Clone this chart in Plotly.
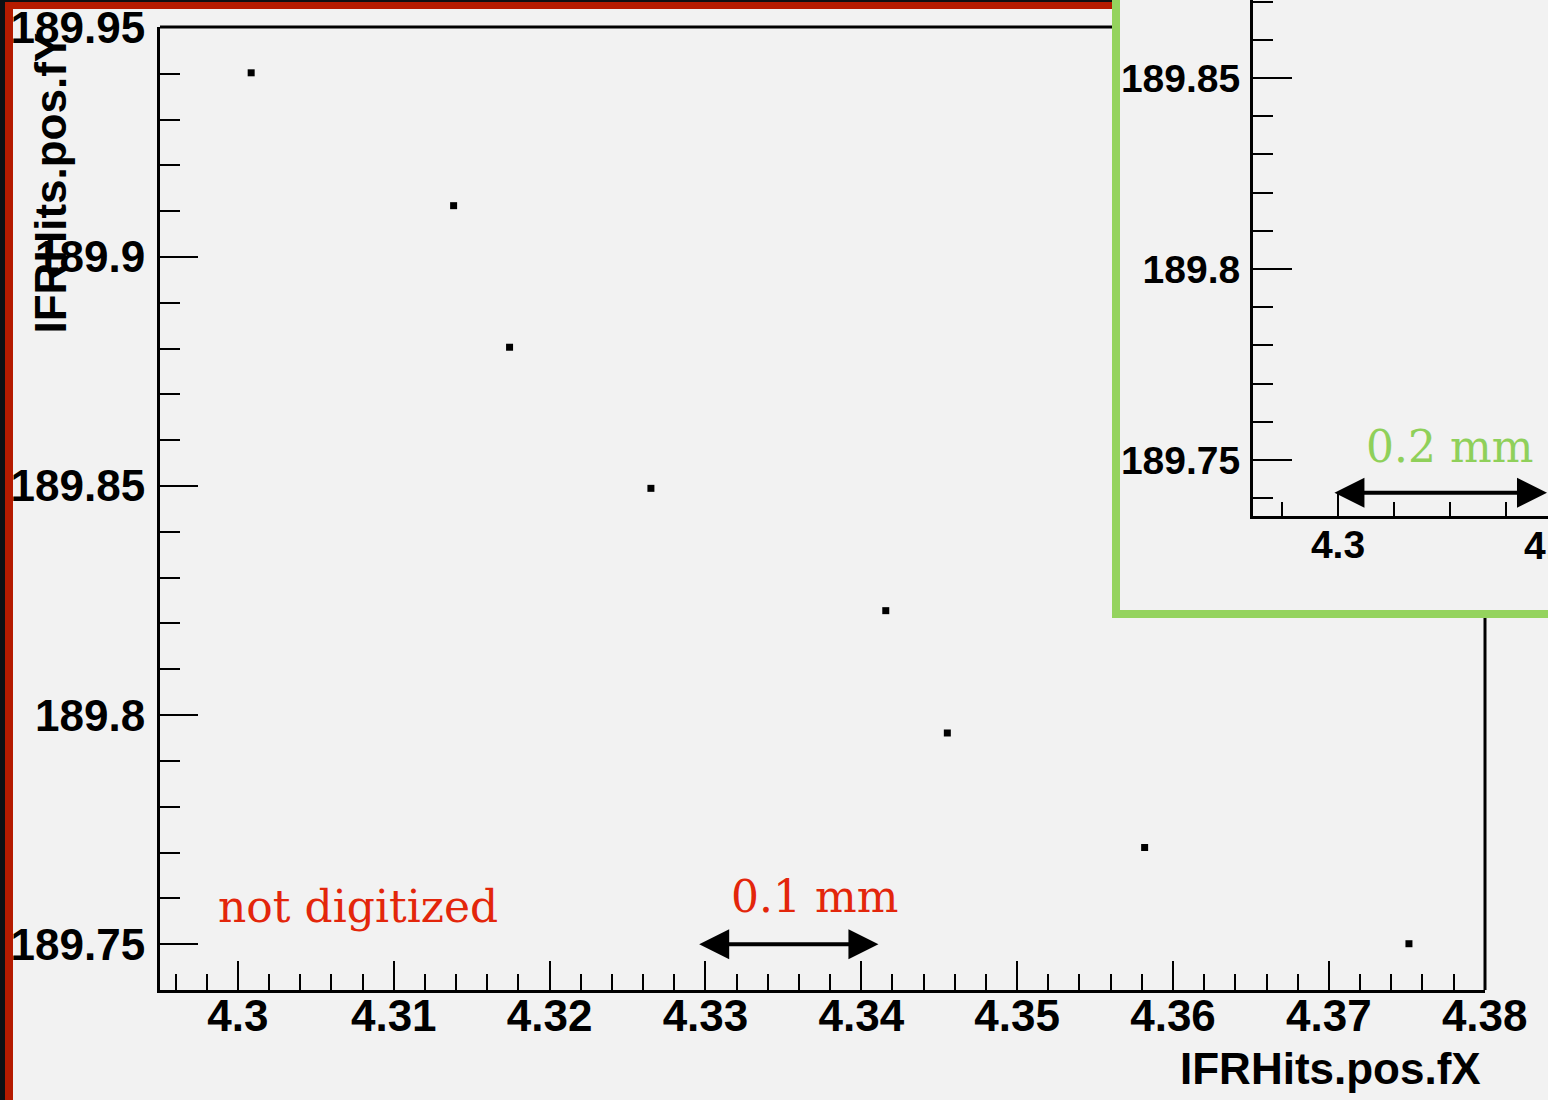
import plotly.graph_objects as go

# ---------------- data ----------------
hit_x = [4.30085, 4.31384, 4.31743, 4.32650, 4.34157, 4.34552, 4.35818, 4.37514]
hit_y = [189.9402, 189.9112, 189.8803, 189.8495, 189.8228, 189.7961, 189.7711, 189.7501]

x_tick_vals = [4.30, 4.31, 4.32, 4.33, 4.34, 4.35, 4.36, 4.37, 4.38]
x_tick_text = ["4.3", "4.31", "4.32", "4.33", "4.34", "4.35", "4.36", "4.37", "4.38"]
y_tick_vals = [189.75, 189.80, 189.85, 189.90, 189.95]
y_tick_text = ["189.75", "189.8", "189.85", "189.9", "189.95"]

inset_x_tick_vals = [4.30]
inset_x_tick_text = ["4.3"]
inset_y_tick_vals = [189.75, 189.80, 189.85]
inset_y_tick_text = ["189.75", "189.8", "189.85"]

x_title = "IFRHits.pos.fX"
y_title = "IFRHits.pos.fY"

# scale-bar annotations (data units, cm)
bar_main = (4.3295, 4.3411, 189.75)
bar_inset = (4.29955, 4.31866, 189.7414)

# ---------------- page geometry ----------------
W, H = 1548, 1100


def fx(p):
    return p / W


def fy(p):
    return 1 - p / H


DARK = "#0d1013"
RED = "#b51b00"
PANEL = "#f2f2f2"
GREEN = "#94d35e"
TXT_RED = "#e3260b"
TXT_GREEN = "#8fd05a"

tick_font = dict(family="Liberation Sans, Arial, sans-serif", size=44, color="black", weight="bold")
inset_font = dict(family="Liberation Sans, Arial, sans-serif", size=39, color="black", weight="bold")
serif = "DejaVu Serif, serif"

fig = go.Figure()

fig.add_trace(go.Scatter(
    x=hit_x, y=hit_y, mode="markers",
    marker=dict(symbol="square", size=7, color="black", line=dict(width=0)),
    xaxis="x", yaxis="y", showlegend=False, hoverinfo="x+y",
))
fig.add_trace(go.Scatter(x=[], y=[], mode="markers", xaxis="x2", yaxis="y2", showlegend=False))

common = dict(showgrid=False, zeroline=False, showline=True, linecolor="black",
              ticks="inside", tickcolor="black", mirror=False, automargin=False)

fig.update_layout(
    width=W, height=H,
    autosize=False,
    margin=dict(l=0, r=0, t=0, b=0, pad=0, autoexpand=False),
    paper_bgcolor=DARK,
    plot_bgcolor="rgba(0,0,0,0)",
    showlegend=False,
    xaxis=dict(
        **common, domain=[fx(160), fx(1485)], range=[4.295, 4.38002], anchor="y",
        tickmode="array", tickvals=x_tick_vals, ticktext=x_tick_text,
        ticklen=29, tickwidth=2, linewidth=3, tickfont=tick_font, ticklabelstandoff=-15,
        minor=dict(ticks="inside", ticklen=16, tickwidth=2, tickcolor="black",
                   tickmode="linear", tick0=4.3, dtick=0.002),
    ),
    yaxis=dict(
        **common, domain=[fy(990), fy(27)], range=[189.74, 189.9502], anchor="x",
        tickmode="array", tickvals=y_tick_vals, ticktext=y_tick_text,
        ticklen=38, tickwidth=2, linewidth=3, tickfont=tick_font, ticklabelstandoff=3,
        minor=dict(ticks="inside", ticklen=20, tickwidth=2, tickcolor="black",
                   tickmode="linear", tick0=189.75, dtick=0.01),
    ),
    xaxis2=dict(
        **common, domain=[fx(1253), 1], range=[4.3 - 85 / 11200, 4.3 + 210 / 11200], anchor="y2",
        tickmode="array", tickvals=inset_x_tick_vals, ticktext=inset_x_tick_text,
        ticklen=22, tickwidth=2, linewidth=3, tickfont=inset_font, ticklabelstandoff=-8,
        minor=dict(ticks="inside", ticklen=14, tickwidth=2, tickcolor="black",
                   tickmode="linear", tick0=4.3, dtick=0.005),
    ),
    yaxis2=dict(
        **common, domain=[fy(516), 1], range=[189.75 - 56 / 3820, 189.75 + 460 / 3820], anchor="x2",
        tickmode="array", tickvals=inset_y_tick_vals, ticktext=inset_y_tick_text,
        ticklen=39, tickwidth=2, linewidth=3, tickfont=inset_font, ticklabelstandoff=2,
        minor=dict(ticks="inside", ticklen=20, tickwidth=2, tickcolor="black",
                   tickmode="linear", tick0=189.75, dtick=0.01),
    ),
)

shapes = [
    # red slide frame + light panel
    dict(type="rect", xref="paper", yref="paper", x0=fx(5), x1=1, y0=0, y1=fy(2),
         fillcolor=RED, line=dict(width=0), layer="below"),
    dict(type="rect", xref="paper", yref="paper", x0=fx(13), x1=1, y0=0, y1=fy(9),
         fillcolor=PANEL, line=dict(width=0), layer="below"),
    # main frame top and right
    dict(type="line", xref="paper", yref="paper", x0=fx(160), x1=fx(1112), y0=fy(27), y1=fy(27),
         line=dict(color="black", width=3), layer="below"),
    dict(type="line", xref="paper", yref="paper", x0=fx(1485), x1=fx(1485), y0=fy(990), y1=fy(610),
         line=dict(color="black", width=3), layer="below"),
    # inset green frame
    dict(type="rect", xref="paper", yref="paper", x0=fx(1112), x1=1.01, y0=fy(618), y1=1.01,
         fillcolor=GREEN, line=dict(width=0), layer="below"),
    dict(type="rect", xref="paper", yref="paper", x0=fx(1120), x1=1.01, y0=fy(610), y1=1.01,
         fillcolor=PANEL, line=dict(width=0), layer="below"),
]
fig.update_layout(shapes=shapes)

annotations = [
    # axis titles
    dict(xref="paper", yref="paper", x=fx(1483), y=fy(1068), xanchor="right", yanchor="middle",
         text=x_title, showarrow=False, font=tick_font),
    dict(xref="paper", yref="paper", x=fx(50), y=fy(336), xanchor="center", yanchor="bottom",
         text=y_title, textangle=-90, showarrow=False, font=tick_font),
    # inset clipped second label
    dict(xref="paper", yref="paper", x=fx(1562), y=fy(545), xanchor="center", yanchor="middle",
         text="4.32", showarrow=False, font=inset_font),
    # red / green notes
    dict(xref="paper", yref="paper", x=fx(216), y=fy(906), xanchor="left", yanchor="middle",
         text="not digitized", showarrow=False, font=dict(family=serif, size=44, color=TXT_RED)),
    dict(xref="paper", yref="paper", x=fx(814), y=fy(896), xanchor="center", yanchor="middle",
         text="0.1 mm", showarrow=False, font=dict(family=serif, size=44, color=TXT_RED)),
    dict(xref="paper", yref="paper", x=fx(1449), y=fy(446), xanchor="center", yanchor="middle",
         text="0.2 mm", showarrow=False, font=dict(family=serif, size=44, color=TXT_GREEN)),
    # scale bars
    dict(xref="x", yref="y", axref="x", ayref="y", x=bar_main[1], y=bar_main[2],
         ax=bar_main[0], ay=bar_main[2], text="", showarrow=True, arrowhead=2, startarrowhead=2,
         arrowside="end+start", arrowwidth=4, arrowsize=1.5, startarrowsize=1.5, arrowcolor="black"),
    dict(xref="x2", yref="y2", axref="x2", ayref="y2", x=bar_inset[1], y=bar_inset[2],
         ax=bar_inset[0], ay=bar_inset[2], text="", showarrow=True, arrowhead=2, startarrowhead=2,
         arrowside="end+start", arrowwidth=4, arrowsize=1.5, startarrowsize=1.5, arrowcolor="black"),
]
fig.update_layout(annotations=annotations)

fig.write_html("out.html")
